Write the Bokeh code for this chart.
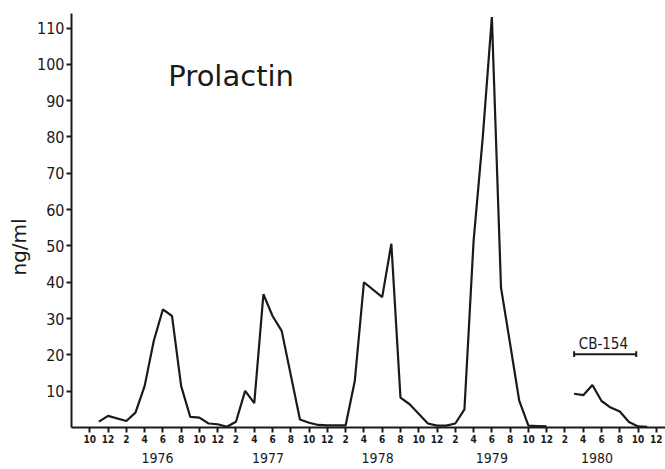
import math
from bokeh.plotting import figure
from bokeh.models import Range1d, FixedTicker, Label, LinearAxis, Title
from bokeh.embed import file_html
from bokeh.resources import INLINE

# month index: 0 = October 1975
month_labels = ["10", "12", "2", "4", "6", "8"] * 6
month_ticks = list(range(0, 63, 2))
year_names = ["1976", "1977", "1978", "1979", "1980"]
year_pos = [7.4, 19.5, 31.5, 44.0, 55.5]
y_ticks = [10, 20, 30, 40, 50, 60, 70, 80, 90, 100, 110]

# prolactin before treatment (Nov 1975 - Dec 1979)
months_a = [1, 2, 4, 5, 6, 7, 8, 9, 10, 11, 12, 13, 14, 15, 16, 17, 18, 19, 20, 21,
            23, 24, 25, 26, 28, 29, 30, 32, 33, 34, 35, 37, 38, 39, 40, 41, 42, 43,
            44, 45, 46, 47, 48, 49, 50]
prl_a = [1.6, 3.2, 1.8, 4.1, 11.4, 23.8, 32.5, 30.7, 11.4, 2.9, 2.7, 1.1, 0.9, 0.2,
         1.6, 10.1, 6.7, 36.7, 30.7, 26.6, 2.2, 1.3, 0.7, 0.6, 0.6, 12.8, 40.0, 35.9,
         50.6, 8.2, 6.4, 1.1, 0.5, 0.5, 1.1, 5.0, 51.4, 79.8, 113.0, 38.5, 23.0, 7.3,
         0.5, 0.4, 0.3]

# prolactin during CB-154 treatment (1980)
months_b = [53, 54, 55, 56, 57, 58, 59, 60, 61]
prl_b = [9.3, 8.9, 11.7, 7.3, 5.5, 4.4, 1.5, 0.3, 0.2]

treat_start, treat_end, treat_level = 53.0, 59.8, 20.2

FONT = "DejaVu Sans Condensed"
INK = "#1a1a1a"

p = figure(width=665, height=469, output_backend="svg", toolbar_location=None,
           x_range=Range1d(-2, 63), y_range=Range1d(0, 114),
           min_border_left=71, min_border_right=0, min_border_top=13,
           min_border_bottom=42)
p.outline_line_color = None
p.grid.visible = False
p.background_fill_color = "white"
p.border_fill_color = "white"

p.line(months_a, prl_a, line_width=2.2, color=INK)
p.line(months_b, prl_b, line_width=2.2, color=INK)

# treatment bracket
p.segment(x0=[treat_start], y0=[treat_level], x1=[treat_end], y1=[treat_level],
          line_width=2, color=INK)
p.segment(x0=[treat_start, treat_end], y0=[treat_level - 0.8] * 2,
          x1=[treat_start, treat_end], y1=[treat_level + 0.8] * 2,
          line_width=2, color=INK)
p.add_layout(Label(x=(treat_start + treat_end) / 2 - 0.2, y=treat_level + 2.8,
                   text="CB-154", text_align="center", text_baseline="middle",
                   text_font=FONT, text_font_size="15px", text_color=INK))

p.add_layout(Label(x=8.6, y=96.8, text="Prolactin", text_align="left",
                   text_baseline="middle", text_font="DejaVu Sans",
                   text_font_size="29px", text_color=INK))

# x axis (months)
xa = p.xaxis[0]
xa.ticker = FixedTicker(ticks=month_ticks)
xa.major_label_overrides = {t: l for t, l in zip(month_ticks, month_labels)}
xa.minor_tick_line_color = None
xa.major_tick_in = 0
xa.major_tick_out = 5
xa.major_label_standoff = 2
xa.axis_line_width = 2
xa.axis_line_color = INK
xa.major_tick_line_width = 2
xa.major_tick_line_color = INK
xa.major_label_text_font = FONT
xa.major_label_text_font_size = "10px"
xa.major_label_text_font_style = "bold"
xa.major_label_text_color = INK

# second axis below: years
year_axis = LinearAxis(ticker=FixedTicker(ticks=year_pos),
                       major_label_overrides={t: n for t, n in zip(year_pos, year_names)})
year_axis.axis_line_color = None
year_axis.major_tick_line_color = None
year_axis.minor_tick_line_color = None
year_axis.major_tick_in = 0
year_axis.major_tick_out = 0
year_axis.major_label_standoff = 7
year_axis.major_label_text_font = FONT
year_axis.major_label_text_font_size = "14px"
year_axis.major_label_text_color = INK
p.add_layout(year_axis, "below")

# y axis
ya = p.yaxis[0]
ya.ticker = FixedTicker(ticks=y_ticks)
ya.minor_tick_line_color = None
ya.major_tick_in = 0
ya.major_tick_out = 5
ya.major_label_standoff = 2
ya.axis_line_width = 2
ya.axis_line_color = INK
ya.major_tick_line_width = 2
ya.major_tick_line_color = INK
ya.major_label_text_font = FONT
ya.major_label_text_font_size = "16px"
ya.major_label_text_color = INK

# unit title on the left
unit_title = Title(text="ng/ml", align="left", offset=152, standoff=8,
                   text_font="DejaVu Sans", text_font_size="20px",
                   text_font_style="normal", text_color=INK)
p.add_layout(unit_title, "left")

open("out.html", "w").write(file_html(p, INLINE))
